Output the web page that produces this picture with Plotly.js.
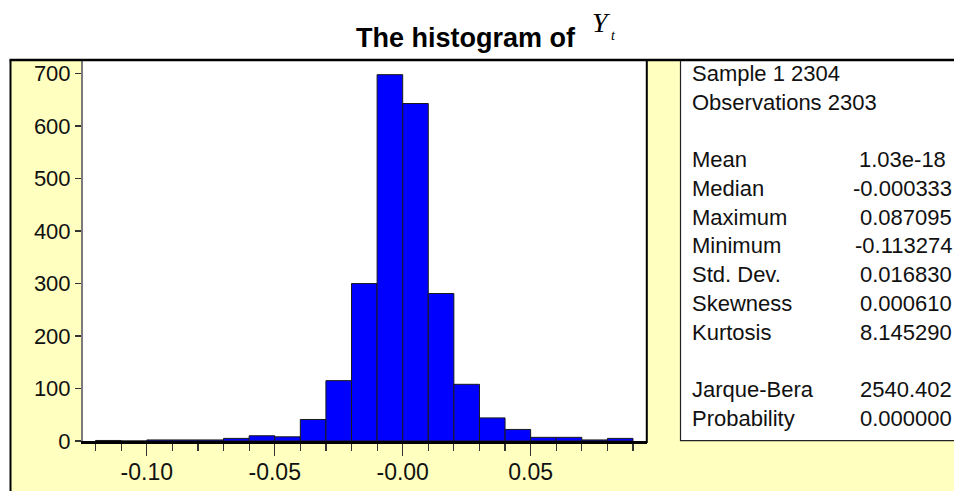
<!DOCTYPE html>
<html>
<head>
<meta charset="utf-8">
<script src="https://cdn.plot.ly/plotly-3.0.1.min.js"></script>
<style>
  html, body { margin: 0; padding: 0; background: #ffffff; }
  #chart { width: 954px; height: 491px; }
</style>
</head>
<body>
<div id="chart"></div>
<script>
// ---------- data ----------
const binCenters = [-0.115, -0.105, -0.095, -0.085, -0.075, -0.065, -0.055, -0.045, -0.035, -0.025, -0.015,
                    -0.005, 0.005, 0.015, 0.025, 0.035, 0.045, 0.055, 0.065, 0.075, 0.085];
const binCounts  = [1, 0, 2, 2, 2, 5, 10, 8, 41, 115, 300,
                    698, 643, 281, 108, 44, 22, 7, 7, 2, 5];
const binWidth = 0.01;

const xTickVals  = [-0.10, -0.05, 0.00, 0.05];
const xTickText  = ['-0.10', '-0.05', '-0.00', '0.05'];
const xMinorVals = [-0.12, -0.11, -0.10, -0.09, -0.08, -0.07, -0.06, -0.05, -0.04, -0.03, -0.02, -0.01,
                    0.00, 0.01, 0.02, 0.03, 0.04, 0.05, 0.06, 0.07, 0.08, 0.09];
const yTickVals  = [0, 100, 200, 300, 400, 500, 600, 700];

const headerLines = ['Sample 1 2304', 'Observations 2303'];
const statLabels  = ['Mean', 'Median', 'Maximum', 'Minimum', 'Std. Dev.', 'Skewness', 'Kurtosis'];
const statValues  = ['1.03e-18\u00a0', '-0.000333', '0.087095', '-0.113274', '0.016830', '0.000610', '8.145290'];
const testLabels  = ['Jarque-Bera', 'Probability'];
const testValues  = ['2540.402', '0.000000'];

const titleText = 'The histogram of';

// ---------- geometry helpers ----------
const W = 954, H = 491;
const M = { l: 83, r: 307, t: 61, b: 50 };
const PW = W - M.l - M.r, PH = H - M.t - M.b;
const px = x => (x - M.l) / PW;           // pixel -> paper x
const py = y => (H - M.b - y) / PH;       // pixel -> paper y

const FONT = 'Liberation Sans, Arial, Helvetica, sans-serif';
const SERIF = 'Liberation Serif, Times New Roman, serif';
const YELLOW = '#FFFFC0';

const trace = {
  type: 'bar',
  x: binCenters,
  y: binCounts,
  width: binCenters.map(() => binWidth),
  marker: { color: '#0000FF', line: { color: '#1a1a1a', width: 1 } },
  hoverinfo: 'x+y'
};

// stats text annotations
const annotations = [];
const rowStep = 28.75;
const row0 = 73.3;
function addRow(i, label, value) {
  const y = py(row0 + i * rowStep);
  annotations.push({ xref: 'paper', yref: 'paper', x: px(690), y: y, xanchor: 'left', yanchor: 'middle',
    text: label, showarrow: false, font: { family: FONT, size: 22, color: '#111111' } });
  if (value !== null) {
    annotations.push({ xref: 'paper', yref: 'paper', x: px(954), y: y, xanchor: 'right', yanchor: 'middle',
      text: value, showarrow: false, font: { family: FONT, size: 22, color: '#111111' } });
  }
}
headerLines.forEach((h, i) => addRow(i, h, null));
statLabels.forEach((l, i) => addRow(3 + i, l, statValues[i]));
testLabels.forEach((l, i) => addRow(11 + i, l, testValues[i]));

// Y_t in the title
annotations.push({ xref: 'paper', yref: 'paper', x: px(590), y: py(22), xanchor: 'left', yanchor: 'middle',
  text: '<i>Y</i>', showarrow: false, font: { family: SERIF, size: 28, color: '#000000' } });
annotations.push({ xref: 'paper', yref: 'paper', x: px(609), y: py(36), xanchor: 'left', yanchor: 'middle',
  text: '<i>t</i>', showarrow: false, font: { family: SERIF, size: 14, color: '#000000' } });

const shapes = [
  // yellow frame background
  { type: 'rect', xref: 'paper', yref: 'paper', x0: px(10), x1: px(960), y0: py(60), y1: py(495),
    fillcolor: YELLOW, line: { width: 0 }, layer: 'below' },
  // white plot area
  { type: 'rect', xref: 'paper', yref: 'paper', x0: 0, x1: 1, y0: 0, y1: 1,
    fillcolor: '#ffffff', line: { width: 0 }, layer: 'below' },
  // stats box
  { type: 'rect', xref: 'paper', yref: 'paper', x0: px(680.5), x1: px(1000), y0: py(440.7), y1: py(60),
    fillcolor: '#ffffff', line: { color: '#222222', width: 1.2 }, layer: 'below' },
  // left border of frame
  { type: 'line', xref: 'paper', yref: 'paper', x0: px(10.5), x1: px(10.5), y0: py(60), y1: py(495),
    line: { color: '#000000', width: 2 }, layer: 'above' },
  // top border
  { type: 'line', xref: 'paper', yref: 'paper', x0: px(9.5), x1: px(960), y0: py(60), y1: py(60),
    line: { color: '#000000', width: 2.5 }, layer: 'above' },
  // right border of plot
  { type: 'line', xref: 'paper', yref: 'paper', x0: px(646.8), x1: px(646.8), y0: py(60), y1: py(443),
    line: { color: '#000000', width: 2 }, layer: 'above' }
];

const layout = {
  width: W, height: H,
  margin: M,
  paper_bgcolor: '#ffffff',
  plot_bgcolor: '#ffffff',
  showlegend: false,
  bargap: 0,
  font: { family: FONT, size: 22, color: '#111111' },
  title: {
    text: '<b>' + titleText + '</b>',
    xref: 'container', yref: 'container',
    x: 356 / W, xanchor: 'left',
    y: 1 - 38 / H, yanchor: 'middle',
    font: { family: FONT, size: 27, color: '#000000' }
  },
  xaxis: {
    range: [-0.12493, 0.09547],
    tickmode: 'array', tickvals: xTickVals, ticktext: xTickText,
    ticks: 'outside', ticklen: 12, tickwidth: 1.2, tickcolor: '#333333',
    minor: { tickmode: 'array', tickvals: xMinorVals, ticks: 'outside', ticklen: 7, tickwidth: 1.2, tickcolor: '#333333', showgrid: false },
    showline: true, linecolor: '#000000', linewidth: 2.5,
    showgrid: false, zeroline: false,
    ticklabelstandoff: -3,
    tickfont: { family: FONT, size: 23, color: '#111111' },
    fixedrange: true
  },
  yaxis: {
    range: [0, 724],
    tickmode: 'array', tickvals: yTickVals,
    ticks: 'outside', ticklen: 6, tickwidth: 1.2, tickcolor: '#333333',
    showline: true, linecolor: '#7a7a7a', linewidth: 2,
    showgrid: false, zeroline: false,
    tickfont: { family: FONT, size: 22, color: '#111111' },
    fixedrange: true
  },
  shapes: shapes,
  annotations: annotations
};

Plotly.newPlot('chart', [trace], layout, { displayModeBar: false, staticPlot: true });
</script>
</body>
</html>
